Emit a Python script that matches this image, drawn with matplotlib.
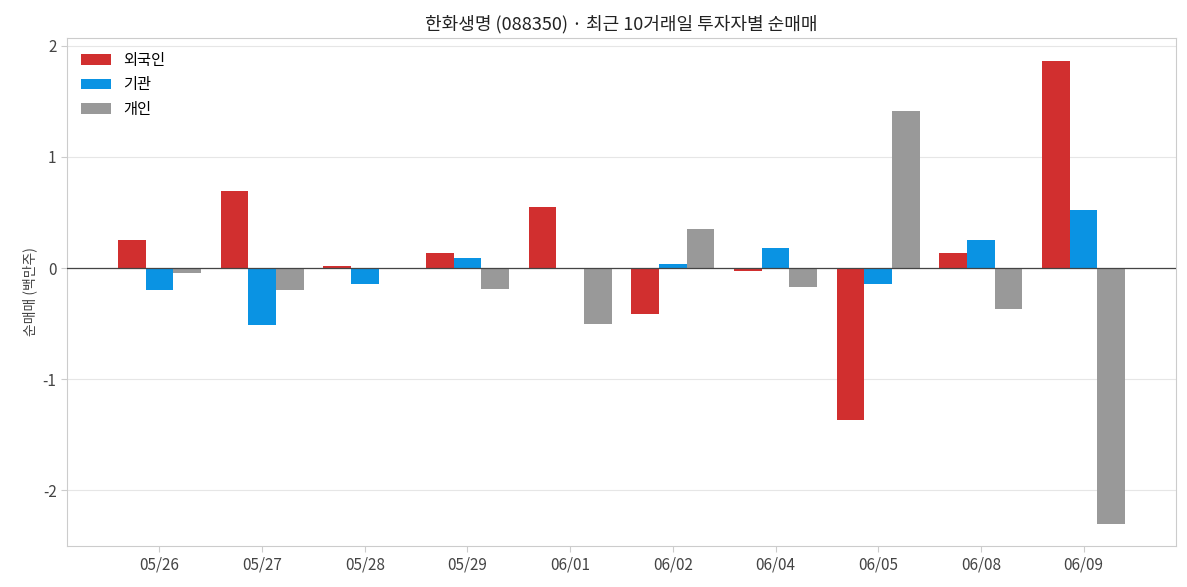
import matplotlib
matplotlib.use("Agg")
import matplotlib.pyplot as plt
import numpy as np

plt.rcParams['font.family'] = ['Noto Sans CJK KR', 'DejaVu Sans']

dates = ["05/26","05/27","05/28","05/29","06/01","06/02","06/04","06/05","06/08","06/09"]
foreign = [0.25, 0.69, 0.02, 0.14, 0.55, -0.41, -0.03, -1.37, 0.14, 1.86]
inst = [-0.20, -0.51, -0.14, 0.09, -0.01, 0.04, 0.18, -0.14, 0.25, 0.52]
indiv = [-0.04, -0.20, 0.0, -0.19, -0.50, 0.35, -0.17, 1.41, -0.37, -2.30]

fig = plt.figure(figsize=(11.87, 5.87), dpi=100)
ax = fig.add_axes([67/1187, 41/587, 1109/1187, 508/587])
x = np.arange(len(dates))
w = 0.27
ax.bar(x - w, foreign, w, color='#d12f2f', label='외국인', zorder=3)
ax.bar(x, inst, w, color='#0a93e3', label='기관', zorder=3)
ax.bar(x + w, indiv, w, color='#999999', label='개인', zorder=3)
ax.axhline(0, color='#444444', lw=0.9, zorder=4)
ax.set_xlim(-0.9, len(dates) - 1 + 0.9)
ax.set_ylim(-2.5, 2.07)
ax.set_yticks([-2, -1, 0, 1, 2])
ax.set_yticklabels(['-2', '-1', '0', '1', '2'])
ax.set_xticks(x)
ax.set_xticklabels(dates)
ax.grid(axis='y', color='#e6e6e6', lw=0.8, zorder=0)
for s in ax.spines.values():
    s.set_color('#cccccc')
ax.tick_params(colors='#444444', labelsize=11, length=4)
ax.tick_params(axis='both', color='#cccccc')
ax.set_ylabel('순매매 (백만주)', fontsize=10, color='#444444')
ax.set_title('한화생명 (088350) · 최근 10거래일 투자자별 순매매', fontsize=13, color='#222222')
ax.legend(loc='upper left', frameon=False, fontsize=11)
fig.savefig('out.png', dpi=100)
